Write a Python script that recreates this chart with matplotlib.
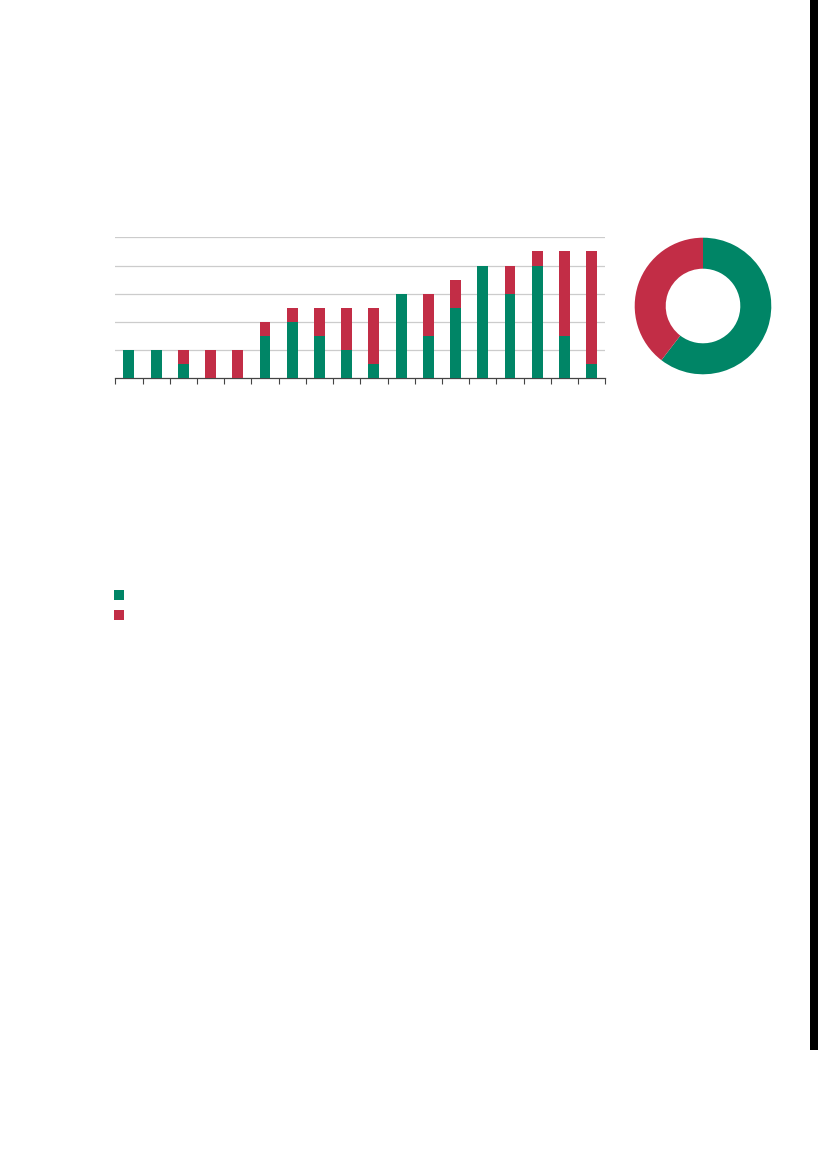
import matplotlib
matplotlib.use("Agg")
import matplotlib.pyplot as plt
from matplotlib.patches import Rectangle
import numpy as np

# Data
green_vals = [1, 1, 0.5, 0, 0, 1.5, 2, 1.5, 1, 0.5, 3, 1.5, 2.5, 4, 3, 4, 1.5, 0.5]
red_vals = [0, 0, 0.5, 1, 1, 0.5, 0.5, 1, 1.5, 2, 0, 1.5, 1, 0, 1, 0.5, 3, 4]
donut_vals = [sum(green_vals), sum(red_vals)]

GREEN = "#008566"
RED = "#C22D46"

W, H = 827, 1169
fig = plt.figure(figsize=(W / 100, H / 100), dpi=100)
fig.patch.set_facecolor("white")

def ax_rect(x0, y0, x1, y1):
    return [x0 / W, 1 - y1 / H, (x1 - x0) / W, (y1 - y0) / H]

# Bar chart
ax = fig.add_axes(ax_rect(115.3, 237.3, 605.3, 378.3))
n = len(green_vals)
x = np.arange(n)
ax.bar(x, green_vals, width=0.4, color=GREEN, zorder=3)
ax.bar(x, red_vals, width=0.4, bottom=green_vals, color=RED, zorder=3)
ax.set_xlim(-0.5, n - 0.5)
ax.set_ylim(0, 5)
ax.set_yticks([1, 2, 3, 4, 5])
ax.yaxis.grid(True, color="#cccccc", linewidth=0.9, zorder=0)
ax.tick_params(axis="y", length=0, labelleft=False)
ax.set_xticks(np.arange(-0.5, n, 1.0))
ax.tick_params(axis="x", direction="out", length=4, width=0.8, color="#444444", labelbottom=False)
for s in ["top", "right", "left"]:
    ax.spines[s].set_visible(False)
ax.spines["bottom"].set_color("#444444")
ax.spines["bottom"].set_linewidth(0.9)
ax.set_facecolor("none")

# Donut chart
cx, cy, r = 703, 306, 68.3
dax = fig.add_axes(ax_rect(cx - r, cy - r, cx + r, cy + r))
dax.pie(donut_vals, colors=[GREEN, RED], startangle=90, counterclock=False,
        radius=1.0, wedgeprops=dict(width=1 - 37.3 / 68.3, edgecolor="none"))
dax.set_xlim(-1, 1)
dax.set_ylim(-1, 1)
dax.set_aspect("equal")
dax.axis("off")

# Legend squares
for (y0, c) in [(589.5, GREEN), (609.5, RED)]:
    fig.add_artist(Rectangle((114 / W, 1 - (y0 + 10) / H), 10 / W, 10 / H,
                             transform=fig.transFigure, color=c, linewidth=0))

# Dark strip at right edge
fig.add_artist(Rectangle((810 / W, 1 - 1050 / H), 8 / W, 1050 / H,
                         transform=fig.transFigure, color="black", linewidth=0))

fig.savefig("out.png", dpi=100, facecolor="white")
